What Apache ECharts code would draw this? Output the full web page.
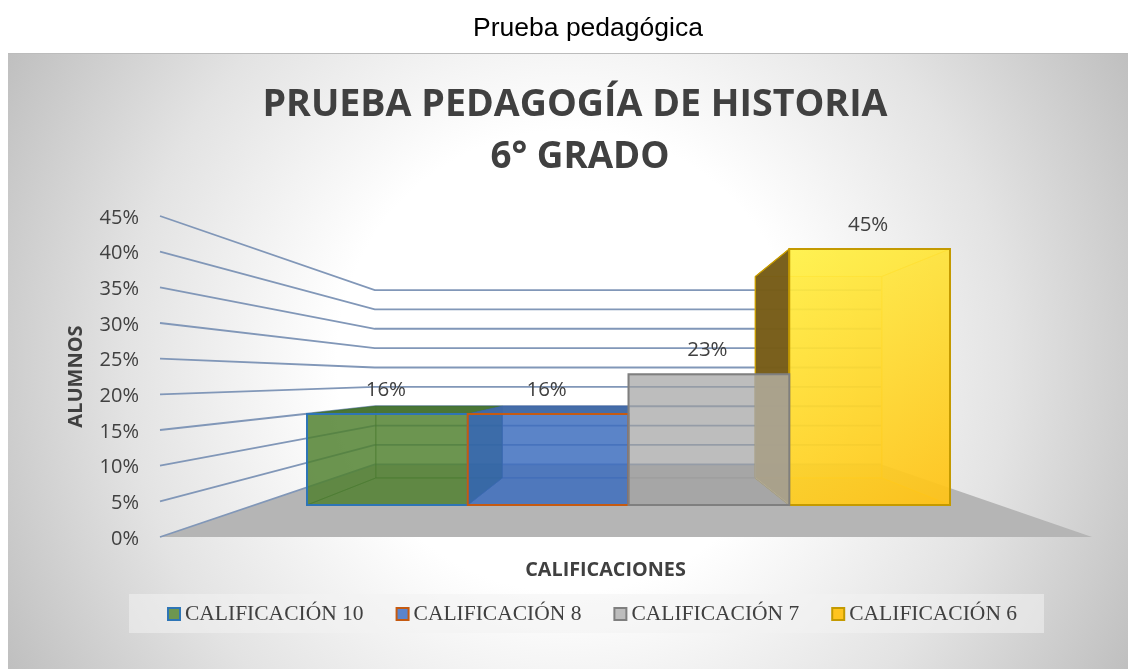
<!DOCTYPE html>
<html><head><meta charset="utf-8">
<style>html,body{margin:0;padding:0;background:#fff}#c{width:1128px;height:669px}</style>
<script src="https://cdn.jsdelivr.net/npm/echarts@6/dist/echarts.min.js"></script>
</head><body><div id="c"></div>
<script>
const seriesNames = ['CALIFICACIÓN 10','CALIFICACIÓN 8','CALIFICACIÓN 7','CALIFICACIÓN 6'];
const values = [16, 16, 23, 45];
const tickValues = [0,5,10,15,20,25,30,35,40,45];
const pageTitle = 'Prueba pedagógica';
const chartTitleLine1 = 'PRUEBA PEDAGOGÍA DE HISTORIA';
const chartTitleLine2 = '6° GRADO';
const xTitle = 'CALIFICACIONES';
const yTitle = 'ALUMNOS';

// projection of the pseudo-3D box
const VP = [630, 378];
const WALL_BACK = 0.543, BAR_BACK = 0.787;
const depth = (p, s) => [VP[0] + (p[0]-VP[0])*s, VP[1] + (p[1]-VP[1])*s];

const skins = [
  {front:'rgba(80,128,46,.6)', back:'rgba(80,128,46,.6)', left:'rgba(80,128,46,.6)', right:null, top:'rgba(70,115,50,.95)', bottom:'rgba(80,128,46,.6)', edge:'#2E75B6', inner:'rgba(60,110,50,.55)', legend:'#6E9650'},
  {front:'rgba(60,109,190,.6)', back:'rgba(60,109,190,.6)', left:'rgba(30,85,140,.75)', right:null, top:'rgba(65,105,165,.95)', bottom:'rgba(60,109,190,.6)', edge:'#C55A11', inner:'rgba(60,100,170,.55)', legend:'#5B84CC'},
  {front:'rgba(159,159,159,.44)', back:'rgba(159,159,159,.44)', left:null, right:'rgba(250,250,250,.44)', top:null, bottom:'rgba(159,159,159,.44)', edge:'#7F7F7F', inner:'rgba(150,150,150,.5)', legend:'#BDBDBD'},
  {front:{type:'linear',x:0,y:0,x2:1,y2:1,colorStops:[{offset:0,color:'rgba(255,242,70,.8)'},{offset:1,color:'rgba(255,192,20,.85)'}]},
   back:'rgba(255,215,50,.65)', left:'rgba(112,86,22,.93)', right:'rgba(255,215,50,.55)', top:'rgba(255,235,70,.65)', bottom:'rgba(255,200,30,.65)', edge:'#C49A00', inner:'rgba(255,200,20,.6)', legend:'#FFC41E'}
];
const poly = (pts, fill, stroke, lw) => ({type:'polygon', shape:{points:pts},
  style:{fill:fill||'none', stroke:stroke||'none', lineWidth:lw||0}});

function barItem(idx){
  return function(params, api){
    const s = skins[idx];
    const c = api.coord([api.value(0), api.value(1)]);
    const b = api.coord([api.value(0), 0]);
    const w = api.size([1,0])[0];
    const fl=[c[0]-w/2,b[1]], fr=[c[0]+w/2,b[1]], tl=[c[0]-w/2,c[1]], tr=[c[0]+w/2,c[1]];
    const [bl,br,btl,btr] = [fl,fr,tl,tr].map(p=>depth(p,BAR_BACK));
    const ch = [];
    ch.push(poly([btl,btr,br,bl], s.back, s.inner, 1));
    ch.push(poly([fl,fr,br,bl], s.bottom, s.inner, 1));
    const topFace = s.top ? poly([tl,tr,btr,btl], s.top, s.inner, 1) : null;
    if(topFace && idx===3) ch.push(topFace);
    if(s.left) ch.push(poly([fl,bl,btl,tl], s.left, s.inner, 1));
    if(s.right) ch.push(poly([fr,br,btr,tr], s.right, s.inner, 1));
    if(topFace && idx!==3) ch.push(topFace);
    if(idx===3) ch.push(poly([tl,btl,bl,fl], null, s.edge, 1.2));
    ch.push(poly([tl,tr,fr,fl], s.front, s.edge, 2));
    ch.push({type:'text', z2:50, style:{text:api.value(1)+'%', x:c[0]-1.5, y:c[1]-24, align:'center', verticalAlign:'middle',
      font:'20.5px "Open Sans"', fill:'#404040'}});
    return {type:'group', children:ch};
  };
}

const wallSeries = {
  type:'custom', silent:true, xAxisIndex:0, yAxisIndex:0, z:2, clip:false,
  data: tickValues.map(v=>[v]),
  encode:{y:0},
  renderItem(params, api){
    const v = api.value(0);
    const a = api.coord([0,v]), e = api.coord([1,v]);
    const m = depth(a, WALL_BACK), n = depth(e, WALL_BACK);
    return {type:'polyline', shape:{points:[a,m,n]}, style:{fill:'none', stroke:'#8197b8', lineWidth:1.8}};
  }
};
const floorSeries = {
  type:'custom', silent:true, xAxisIndex:0, yAxisIndex:0, z:1, clip:false,
  data:[[0]], encode:{y:0},
  renderItem(params, api){
    const a = api.coord([0,0]), e = api.coord([1,0]);
    return {type:'polygon', shape:{points:[a,depth(a,WALL_BACK),depth(e,WALL_BACK),e]}, style:{fill:'#b5b5b5'}};
  }
};
const barSeries = seriesNames.map((name,i)=>({
  type:'custom', name, xAxisIndex:1, yAxisIndex:1, clip:false,
  z:[5,6,8,7][i],
  data:[[i, values[i]]], encode:{x:0,y:1},
  itemStyle:{color:skins[i].legend},
  renderItem:barItem(i)
}));

const chart = echarts.init(document.getElementById('c'), null, {renderer:'canvas'});
const titleStyle = {fontFamily:'Open Sans', fontSize:37.6, fontWeight:'bold', color:'#404040'};
chart.setOption({
  animation:false,
  backgroundColor:'#ffffff',
  title:[
    {text:pageTitle, left:588, top:15, padding:0, textAlign:'center', textStyle:{fontFamily:'Liberation Sans', fontSize:26.5, fontWeight:'normal', color:'#000'}},
    {text:chartTitleLine1, left:575, top:86, padding:0, textAlign:'center', textStyle:titleStyle},
    {text:chartTitleLine2, left:580, top:139, padding:0, textAlign:'center', textStyle:{...titleStyle, fontSize:36.8}}
  ],
  graphic:[
    {type:'rect', z:-10, silent:true, shape:{x:8,y:53,width:1120,height:616},
     style:{fill:{type:'radial',x:0.5,y:0.5,r:1.04,colorStops:[{offset:0,color:'#ffffff'},{offset:0.36,color:'#ffffff'},{offset:0.69,color:'#e3e3e3'},{offset:1,color:'#bfbfbf'}]}, stroke:'none'}},
    {type:'line', z:-9, silent:true, shape:{x1:8,y1:53.5,x2:1128,y2:53.5}, style:{stroke:'#bcbcbc',lineWidth:1}}
  ],
  legend:{
    left:129, top:594, orient:'horizontal', padding:[9,27,8,38], itemGap:32, itemWidth:12, itemHeight:12,
    backgroundColor:'rgba(242,242,242,.55)', selectedMode:false,
    textStyle:{fontFamily:'Liberation Serif', fontSize:21.5, color:'#404040'},
    data:seriesNames.map((n,i)=>({name:n, icon:'rect', itemStyle:{color:skins[i].legend, borderColor:skins[i].edge, borderWidth:2}}))
  },
  grid:[
    {left:160, top:216, width:932, height:321},
    {left:307, top:249, width:643, height:256}
  ],
  xAxis:[
    {type:'value', gridIndex:0, min:0, max:1, show:true, axisLine:{show:false}, axisTick:{show:false}, axisLabel:{show:false}, splitLine:{show:false},
     name:xTitle, nameLocation:'middle', nameGap:23,
     nameTextStyle:{fontFamily:'Open Sans', fontSize:19.8, fontWeight:'bold', color:'#404040', padding:[0,41,0,0]}},
    {type:'category', gridIndex:1, data:seriesNames.map((_,i)=>i), show:false}
  ],
  yAxis:[
    {type:'value', gridIndex:0, min:0, max:45, interval:5, axisLine:{show:false}, axisTick:{show:false}, splitLine:{show:false},
     axisLabel:{formatter:'{value}%', margin:21, fontFamily:'Open Sans', fontSize:20, color:'#404040', verticalAlign:'top', lineHeight:4},
     name:yTitle, nameLocation:'middle', nameGap:74, nameRotate:90,
     nameTextStyle:{fontFamily:'Open Sans', fontSize:20, fontWeight:'bold', color:'#404040'}},
    {type:'value', gridIndex:1, min:0, max:45, interval:5, show:false}
  ],
  series:[floorSeries, wallSeries, ...barSeries]
});
</script></body></html>
